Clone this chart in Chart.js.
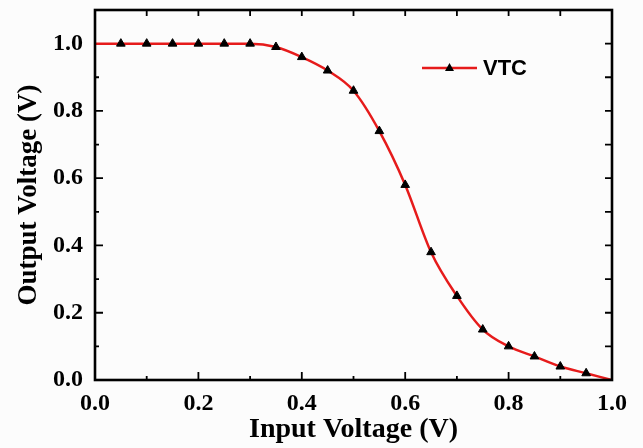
<!DOCTYPE html>
<html>
<head>
<meta charset="utf-8">
<script src="https://cdn.jsdelivr.net/npm/chart.js@4.4.1/dist/chart.umd.min.js"></script>
<style>
    html, body { margin: 0; padding: 0; background: #fcfcfc; }
    #wrap { width: 643px; height: 448px; }
</style>
</head>
<body>
<div id="wrap"><canvas id="vtcChart" width="643" height="448"></canvas></div>
<script>
// Inverter transfer curve: output voltage vs input voltage
const inputVoltage = [0, 0.05, 0.1, 0.15, 0.2, 0.25, 0.3, 0.35, 0.4, 0.45, 0.5,
    0.55, 0.6, 0.65, 0.7, 0.75, 0.8, 0.85, 0.9, 0.95, 1.0];
const outputVoltage = [1.0, 1.0, 1.0, 1.0, 1.0, 1.0, 1.0, 0.99, 0.96, 0.92, 0.86,
    0.74, 0.58, 0.38, 0.25, 0.15, 0.10, 0.07, 0.04, 0.02, 0.0];
const xTicks = [0, 0.2, 0.4, 0.6, 0.8, 1.0];
const yTicks = [0, 0.2, 0.4, 0.6, 0.8, 1.0];
const seriesName = 'VTC';

const lineColor = '#e61b1b';
const serif = '"Liberation Serif", "Times New Roman", serif';

// endpoints are drawn as part of the curve but carry no marker
const markerRadius = inputVoltage.map((x, i) => (i === 0 || i === inputVoltage.length - 1) ? 0 : 5);

// boxed frame with inward ticks, plus the in-plot legend
const framePlugin = {
    id: 'frame',
    afterDatasetsDraw(chart) {
        const { ctx, chartArea: a, scales } = chart;
        const xs = scales.x, ys = scales.y;
        ctx.save();
        ctx.strokeStyle = '#000';
        ctx.lineWidth = 1.8;
        for (let i = 1; i < 10; i++) {
            const v = i / 10;
            const major = i % 2 === 0;
            const px = xs.getPixelForValue(v);
            const py = ys.getPixelForValue(v);
            ctx.beginPath();
            // bottom / left
            ctx.moveTo(px, a.bottom); ctx.lineTo(px, a.bottom - (major ? 8 : 4));
            ctx.moveTo(a.left, py); ctx.lineTo(a.left + (major ? 8 : 4), py);
            // top / right
            ctx.moveTo(px, a.top); ctx.lineTo(px, a.top + 6);
            ctx.moveTo(a.right, py); ctx.lineTo(a.right - 7, py);
            ctx.stroke();
        }
        const py10 = ys.getPixelForValue(1.0);
        ctx.beginPath();
        ctx.moveTo(a.right, py10); ctx.lineTo(a.right - 7, py10);
        ctx.stroke();

        ctx.lineWidth = 2.6;
        ctx.strokeRect(a.left, a.top, a.right - a.left, a.bottom - a.top);

        // legend
        const lx = 422, ly = 68;
        ctx.strokeStyle = lineColor;
        ctx.lineWidth = 2.5;
        ctx.beginPath();
        ctx.moveTo(lx, ly); ctx.lineTo(lx + 55, ly);
        ctx.stroke();
        ctx.fillStyle = '#000';
        ctx.beginPath();
        ctx.moveTo(lx + 27.5, ly - 5);
        ctx.lineTo(lx + 32, ly + 3);
        ctx.lineTo(lx + 23, ly + 3);
        ctx.closePath();
        ctx.fill();
        ctx.font = 'bold 22px "Liberation Sans", Arial, sans-serif';
        ctx.textBaseline = 'middle';
        ctx.fillText(seriesName, lx + 61, ly + 1);
        ctx.restore();
    }
};

new Chart(document.getElementById('vtcChart').getContext('2d'), {
    type: 'line',
    data: {
        datasets: [{
            label: seriesName,
            data: inputVoltage.map((x, i) => ({ x: x, y: outputVoltage[i] })),
            borderColor: lineColor,
            borderWidth: 2.5,
            cubicInterpolationMode: 'monotone',
            pointStyle: 'triangle',
            pointRadius: markerRadius,
            pointBackgroundColor: '#000',
            pointBorderColor: '#000',
            pointBorderWidth: 1
        }]
    },
    options: {
        responsive: false,
        animation: false,
        layout: { padding: { top: 10, right: 31, left: 0, bottom: 0 } },
        plugins: { legend: { display: false }, tooltip: { enabled: false } },
        scales: {
            x: {
                type: 'linear',
                min: 0,
                max: 1.0,
                afterFit(scale) { scale.height = 68; },
                afterBuildTicks(scale) { scale.ticks = xTicks.map(v => ({ value: v })); },
                grid: { display: false, drawTicks: false },
                border: { display: false },
                ticks: {
                    padding: 9,
                    color: '#000',
                    font: { family: serif, size: 24, weight: 'bold' },
                    callback: v => v.toFixed(1)
                },
                title: {
                    display: true,
                    text: 'Input Voltage (V)',
                    color: '#000',
                    padding: { top: 0, bottom: 1 },
                    font: { family: serif, size: 28, weight: 'bold' }
                }
            },
            y: {
                type: 'linear',
                min: 0,
                max: 1.1,
                afterFit(scale) {
                    scale.width = 95;
                    scale.paddingTop = 0;
                    scale.paddingBottom = 0;
                },
                afterBuildTicks(scale) { scale.ticks = yTicks.map(v => ({ value: v })); },
                grid: { display: false, drawTicks: false },
                border: { display: false },
                ticks: {
                    padding: 12,
                    color: '#000',
                    font: { family: serif, size: 24, weight: 'bold' },
                    callback: v => v.toFixed(1)
                },
                title: {
                    display: true,
                    text: 'Output Voltage (V)',
                    color: '#000',
                    padding: { top: 13, bottom: 0 },
                    font: { family: serif, size: 27, weight: 'bold' }
                }
            }
        }
    },
    plugins: [framePlugin]
});
</script>
</body>
</html>
